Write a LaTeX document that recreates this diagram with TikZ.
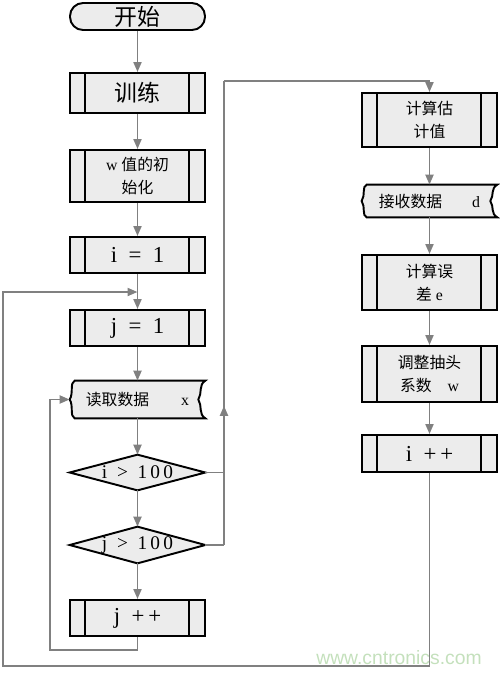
\documentclass[tikz,border=0pt]{standalone}
\usepackage{fontspec}
\setmainfont{Liberation Serif}
\newfontfamily\cjk{Noto Sans CJK SC}
\newfontfamily\websans{Liberation Sans}
\usetikzlibrary{positioning, calc, backgrounds, arrows.meta, decorations.markings}
\definecolor{wmgreen}{RGB}{196,224,188}

% outline of the data (tape) boxes
\newcommand\tapeoutline[1]{%
  \filldraw[boxline] ($(#1.north west)+(5,0)$) -- (#1.north east)
    .. controls +(-7,4) and +(4,-6) .. ($(#1.east)+(-7,0)$)
    .. controls +(4,6) and +(-7,-4) .. (#1.south east)
    -- ($(#1.south west)+(5,0)$)
    .. controls +(-5,-2) and +(4,6) .. (#1.west)
    .. controls +(4,-6) and +(-5,2) .. cycle;}
% outline of the decision boxes
\newcommand\diamondoutline[1]{%
  \filldraw[boxline] (#1.west) -- (#1.north) -- (#1.east) -- (#1.south) -- cycle;}

\begin{document}
\begin{tikzpicture}[
    x=0.02cm, y=-0.02cm,
    boxline/.style={draw=black, line width=1.1pt, fill=gray!15},
    procbox/.style={boxline, minimum width=2.7cm, inner sep=0pt, align=center},
    startbox/.style={procbox, rounded corners=0.26cm},
    tapebox/.style={minimum width=2.7cm, inner sep=0pt, align=center},
    decbox/.style={minimum width=2.7cm, inner sep=0pt, font=\fontsize{11}{13}\selectfont},
    bigtxt/.style={font=\fontsize{13}{15}\selectfont},
    smalltxt/.style={font=\fontsize{9}{13}\selectfont},
    flow/.style={draw=gray, color=gray, line width=1.1pt, -{Triangle[length=0.2cm, width=0.16cm]}},
    link/.style={draw=gray, color=gray, line width=1.1pt},
    uparrow/.style={postaction={decorate}, decoration={markings,
        mark=at position 0.3 with {\arrow{Triangle[length=0.2cm, width=0.16cm]}}}}
  ]
  \useasboundingbox (0,0) rectangle (500,674);

  % left column
  \node[startbox, bigtxt, minimum height=0.54cm] (start) at (137.5,16.5) {\cjk 开始};
  \node[procbox, bigtxt, minimum height=0.8cm] (train) at (137.5,93) {\cjk 训练};
  \node[procbox, smalltxt, minimum height=1.04cm] (init) at (137.5,176) {w\ {\cjk 值的初}\\{\cjk 始化}};
  \node[procbox, bigtxt, minimum height=0.72cm] (iset) at (137.5,255) {i\ \ =\ \ 1};
  \node[procbox, bigtxt, minimum height=0.72cm] (jset) at (137.5,328) {j\ \ =\ \ 1};
  \node[tapebox, smalltxt, minimum height=0.74cm] (readx) at (137.5,399.5) {{\cjk 读取数据}\hspace{0.64cm}x};
  \node[decbox, minimum height=0.7cm] (dec1) at (137.5,472.5) {i\ \ >\ \ 1\,0\,0};
  \node[decbox, minimum height=0.72cm] (dec2) at (137.5,545) {j\ \ >\ \ 1\,0\,0};
  \node[procbox, bigtxt, minimum height=0.72cm] (jinc) at (137.5,618) {j\ \ +\,+};

  % right column
  \node[procbox, smalltxt, minimum height=1.08cm] (est) at (429.5,120) {{\cjk 计算估}\\{\cjk 计值}};
  \node[tapebox, smalltxt, minimum height=0.64cm] (recvd) at (429.5,201) {{\cjk 接收数据}\hspace{0.6cm}d};
  \node[procbox, smalltxt, minimum height=1.1cm] (err) at (429.5,282.5) {{\cjk 计算误}\\{\cjk 差}\ e};
  \node[procbox, smalltxt, minimum height=1.12cm] (adj) at (429.5,374) {{\cjk 调整抽头}\\{\cjk 系数}\quad w};
  \node[procbox, bigtxt, minimum height=0.74cm] (iinc) at (429.5,453.5) {i\ \ +\,+};

  \node[font=\websans\fontsize{11}{13}\selectfont, text=wmgreen] (wmark) at (399,658) {www.cntronics.com};

  \begin{scope}[on background layer]
    \tapeoutline{readx}
    \tapeoutline{recvd}
    \diamondoutline{dec1}
    \diamondoutline{dec2}
  \end{scope}

  % side bars of the process boxes
  \foreach \n in {train, init, iset, jset, jinc, est, err, adj, iinc} {
    \draw[line width=1.1pt] ($(\n.north west)+(16,0)$) -- ($(\n.south west)+(16,0)$);
    \draw[line width=1.1pt] ($(\n.north east)+(-17,0)$) -- ($(\n.south east)+(-17,0)$);
  }

  % straight connectors
  \foreach \a/\b in {start/train, train/init, init/iset, iset/jset, jset/readx, readx/dec1,
      dec1/dec2, dec2/jinc, est/recvd, recvd/err, err/adj, adj/iinc}
    \draw[flow] (\a) -- (\b);

  % loops
  \coordinate (ijoin) at (137.5,292);
  \coordinate (obot) at (3,666);
  \coordinate (jbot) at (50,650);
  \coordinate (exitbot) at (224,545);
  \coordinate (exittop) at (224,81);

  \draw[flow] (iinc.south) |- (obot) |- (ijoin);
  \draw[flow] (jinc.south) |- (jbot) |- (readx.west);
  \draw[link] (dec2.east) -- (exitbot);
  \draw[link] (dec1.east) -- (dec1.east -| exitbot);
  \draw[link, uparrow] (exitbot) -- (exittop);
  \draw[flow] (exittop) -| (est.north);
\end{tikzpicture}
\end{document}
